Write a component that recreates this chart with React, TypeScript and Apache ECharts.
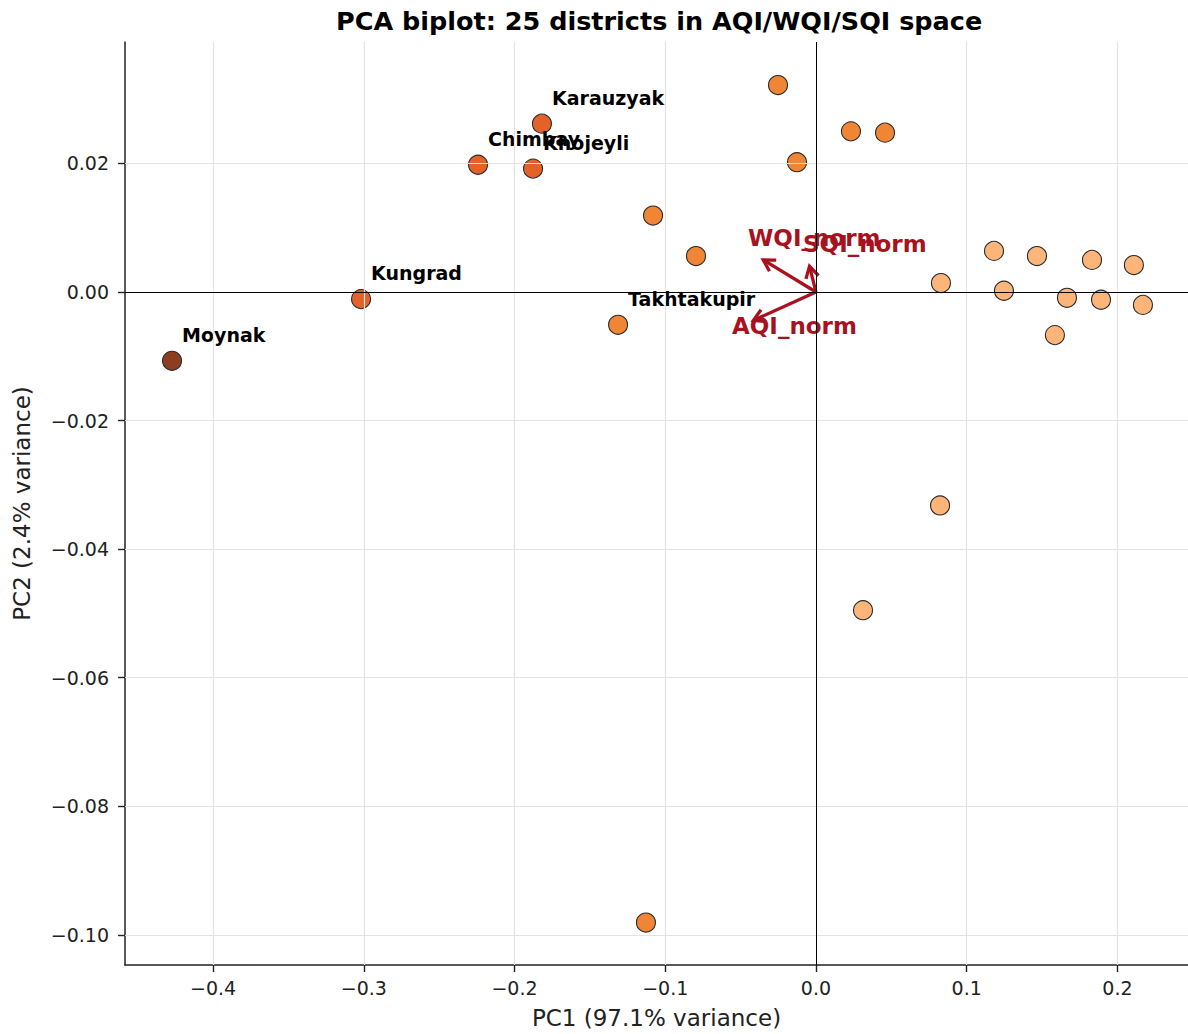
import React, { useEffect, useRef } from "react";
import * as echarts from "echarts";

// ---- data ----
const districtNames = [
  "Moynak", "Kungrad", "Chimbay", "Khojeyli", "Karauzyak", "", "", "Takhtakupir",
  "", "", "", "", "",
  "", "", "", "", "", "", "", "", "", "", "", "",
];
const pc1 = [
  -0.4272, -0.3018, -0.2242, -0.1877, -0.1818, -0.1081, -0.0796, -0.1313,
  -0.0252, -0.0126, 0.0232, 0.0458, -0.1128,
  0.0829, 0.1181, 0.1247, 0.1466, 0.1665, 0.1831, 0.1891, 0.2109, 0.2169, 0.1585, 0.0823, 0.0312,
];
const pc2 = [
  -0.0107, -0.0011, 0.0198, 0.0192, 0.0262, 0.0119, 0.0056, -0.0051,
  0.0322, 0.0202, 0.0250, 0.0248, -0.0981,
  0.0014, 0.0064, 0.0002, 0.0056, -0.0009, 0.0050, -0.0012, 0.0042, -0.0020, -0.0067, -0.0332, -0.0495,
];
const groups = [0, 1, 1, 1, 1, 2, 2, 2, 2, 2, 2, 2, 2, 3, 3, 3, 3, 3, 3, 3, 3, 3, 3, 3, 3];

const loadingNames = ["AQI_norm", "WQI_norm", "SQI_norm"];
const loadingPC1 = [-0.0415, -0.035, -0.0043];
const loadingPC2 = [-0.0044, 0.005, 0.004];
const loadingLabelPC1 = [-0.0557, -0.0451, -0.0086];
const loadingLabelPC2 = [-0.0053, 0.0084, 0.0074];

const xTicks = [-0.4, -0.3, -0.2, -0.1, 0.0, 0.1, 0.2];
const yTicks = [-0.1, -0.08, -0.06, -0.04, -0.02, 0.0, 0.02];

const X_MIN = -0.4584;
const X_MAX = 0.2468;
const Y_MIN = -0.1047;
const Y_MAX = 0.0389;

const groupColors = ["#8e3e20", "#e2622a", "#f08535", "#fdb57a"];
const arrowColor = "#a8121e";
const FONT = "DejaVu Sans";

const fmt = (v: number, d: number) => {
  const s = Math.abs(v).toFixed(d);
  return v < -1e-9 ? "\u2212" + s : s;
};

export default function App() {
  const ref = useRef<HTMLDivElement>(null);
  useEffect(() => {
    if (!ref.current) return;
    const chart = echarts.init(ref.current, undefined, { renderer: "svg" });

    const points = pc1.map((x, i) => ({
      value: [x, pc2[i]],
      name: districtNames[i],
      itemStyle: { color: groupColors[groups[i]] },
    }));

    const arrows = loadingNames.map((n, i) => ({
      name: n,
      value: [loadingPC1[i], loadingPC2[i], loadingLabelPC1[i], loadingLabelPC2[i]],
    }));

    const option: any = {
      animation: false,
      backgroundColor: "#ffffff",
      title: {
        text: "PCA biplot: 25 districts in AQI/WQI/SQI space",
        left: 331,
        top: 3,
        textStyle: { fontFamily: FONT, fontWeight: "bold", fontSize: 25.5, color: "#000" },
      },
      grid: { left: 125, right: 0, top: 42, bottom: 62, containLabel: false },
      xAxis: {
        type: "value",
        min: X_MIN,
        max: X_MAX,
        name: "PC1 (97.1% variance)",
        nameLocation: "middle",
        nameGap: 41,
        nameTextStyle: { fontFamily: FONT, fontSize: 23, color: "#222" },
        axisLine: { show: true, onZero: false, lineStyle: { color: "#222", width: 1.5 } },
        axisTick: { show: true, length: 7, lineStyle: { color: "#222", width: 1.4 }, customValues: xTicks },
        axisLabel: {
          fontFamily: FONT,
          fontSize: 19,
          color: "#222",
          margin: 13,
          customValues: xTicks,
          formatter: (v: number) => fmt(v, 1),
        },
        splitLine: { show: false },
      },
      yAxis: {
        type: "value",
        min: Y_MIN,
        max: Y_MAX,
        name: "PC2 (2.4% variance)",
        nameLocation: "middle",
        nameGap: 92,
        nameTextStyle: { fontFamily: FONT, fontSize: 23, color: "#222" },
        axisLine: { show: true, onZero: false, lineStyle: { color: "#222", width: 1.5 } },
        axisTick: { show: true, length: 7, lineStyle: { color: "#222", width: 1.4 }, customValues: yTicks },
        axisLabel: {
          fontFamily: FONT,
          fontSize: 19,
          color: "#222",
          margin: 16,
          customValues: yTicks,
          formatter: (v: number) => fmt(v, 2),
        },
        splitLine: { show: false },
      },
      series: [
        {
          type: "scatter",
          data: [],
          z: 1,
          silent: true,
          markLine: {
            silent: true,
            symbol: ["none", "none"],
            label: { show: false },
            lineStyle: { color: "#e3e3e3", width: 1.2, type: "solid" },
            data: [
              ...xTicks.filter((v) => v !== 0).map((v) => ({ xAxis: v })),
              ...yTicks.filter((v) => v !== 0).map((v) => ({ yAxis: v })),
            ],
          },
        },
        {
          type: "scatter",
          data: [],
          z: 1.5,
          silent: true,
          markLine: {
            silent: true,
            symbol: ["none", "none"],
            label: { show: false },
            lineStyle: { color: "#000", width: 1, type: "solid" },
            data: [{ xAxis: 0 }, { yAxis: 0 }],
          },
        },
        {
          type: "scatter",
          z: 3,
          symbolSize: 19,
          data: points,
          itemStyle: { borderColor: "#2a2a2a", borderWidth: 1.1, opacity: 1 },
          label: {
            show: true,
            position: "right",
            distance: 0,
            offset: [0, -26],
            formatter: (p: any) => p.name,
            fontFamily: FONT,
            fontWeight: "bold",
            fontSize: 19,
            color: "#000",
            opacity: 1,
          },
        },
        {
          type: "custom",
          z: 4,
          data: arrows,
          renderItem: (params: any, api: any) => {
            const o = api.coord([0, 0]);
            const t = api.coord([api.value(0), api.value(1)]);
            const lp = api.coord([api.value(2), api.value(3)]);
            const ang = Math.atan2(t[1] - o[1], t[0] - o[0]);
            const L = 13;
            const a = Math.PI / 6;
            const p1 = [t[0] - L * Math.cos(ang - a), t[1] - L * Math.sin(ang - a)];
            const p2 = [t[0] - L * Math.cos(ang + a), t[1] - L * Math.sin(ang + a)];
            return {
              type: "group",
              children: [
                {
                  type: "line",
                  shape: { x1: o[0], y1: o[1], x2: t[0], y2: t[1] },
                  style: { stroke: arrowColor, lineWidth: 3.3 },
                },
                {
                  type: "polyline",
                  shape: { points: [p1, t, p2] },
                  style: { stroke: arrowColor, lineWidth: 3.3, fill: null },
                },
                {
                  type: "text",
                  x: lp[0],
                  y: lp[1],
                  style: {
                    text: loadingNames[params.dataIndex],
                    fill: arrowColor,
                    font: `bold 23px "${FONT}"`,
                    textAlign: "left",
                    textVerticalAlign: "middle",
                  },
                },
              ],
            };
          },
        },
      ],
    };
    chart.setOption(option);
    return () => chart.dispose();
  }, []);
  return (
    <div
      ref={ref}
      style={{ position: "absolute", left: 0, top: 0, width: 1188, height: 1034 }}
    />
  );
}
